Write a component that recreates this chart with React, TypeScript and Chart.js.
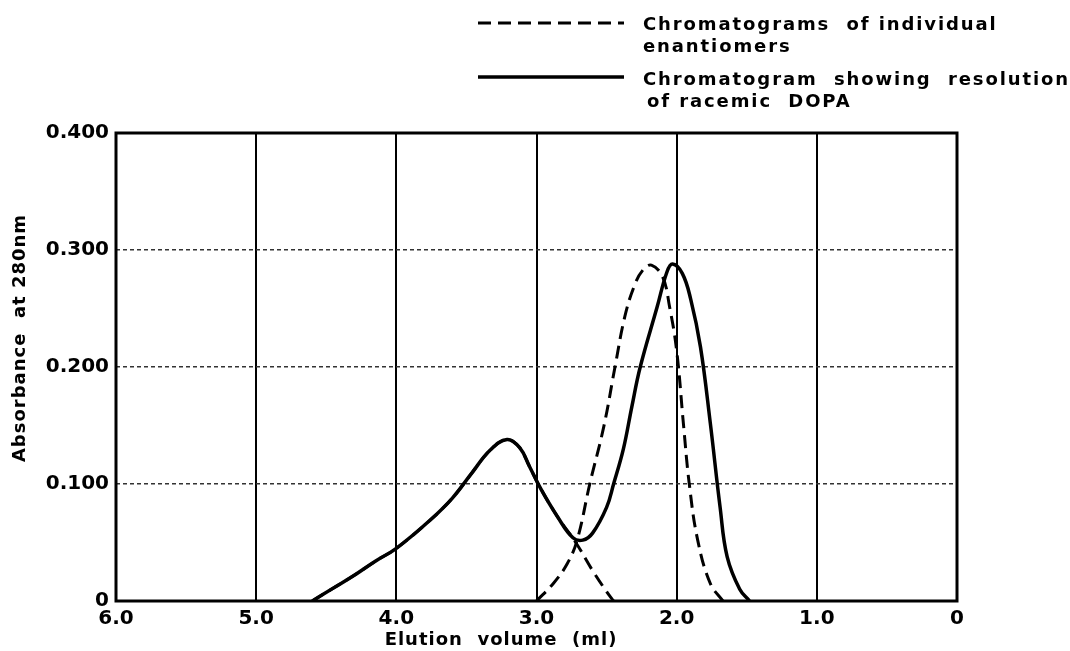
import React, { useEffect, useRef } from "react";
import { Chart, registerables } from "chart.js";

Chart.register(...registerables);

// Racemic DOPA (solid)
const racemicX = [4.6, 4.45, 4.3, 4.15, 4.0, 3.76, 3.6, 3.47, 3.33, 3.21, 3.12, 3.05, 2.97, 2.85, 2.74, 2.67, 2.6, 2.5, 2.45, 2.38, 2.32, 2.26, 2.14, 2.07, 2.03, 1.96, 1.9, 1.83, 1.76, 1.69, 1.64, 1.55, 1.48];
const racemicY = [0, 0.011, 0.022, 0.034, 0.045, 0.069, 0.088, 0.108, 0.129, 0.138, 0.131, 0.115, 0.096, 0.072, 0.054, 0.052, 0.058, 0.08, 0.1, 0.13, 0.166, 0.2, 0.251, 0.281, 0.288, 0.28, 0.258, 0.217, 0.152, 0.08, 0.038, 0.01, 0];

// First enantiomer (dashed)
const enantA_X = [4.6, 4.45, 4.3, 4.15, 4.0, 3.76, 3.6, 3.47, 3.33, 3.21, 3.12, 3.05, 2.97, 2.85, 2.72, 2.6, 2.5, 2.45];
const enantA_Y = [0, 0.011, 0.022, 0.034, 0.045, 0.069, 0.088, 0.108, 0.129, 0.138, 0.131, 0.115, 0.096, 0.072, 0.05, 0.026, 0.008, 0];

// Second enantiomer (dashed)
const enantB_X = [3.0, 2.88, 2.78, 2.71, 2.62, 2.52, 2.44, 2.37, 2.3, 2.24, 2.18, 2.1, 2.05, 2.0, 1.95, 1.91, 1.85, 1.76, 1.67];
const enantB_Y = [0, 0.015, 0.032, 0.052, 0.1, 0.149, 0.2, 0.243, 0.27, 0.283, 0.287, 0.277, 0.251, 0.214, 0.149, 0.1, 0.052, 0.015, 0];

const xTicks = [6, 5, 4, 3, 2, 1, 0];
const yTicks = [0, 0.1, 0.2, 0.3, 0.4];

const legendLabels = [
  ["Chromatograms  of individual", "enantiomers"],
  ["Chromatogram  showing  resolution", "of racemic  DOPA"],
];
const yTitle = "Absorbance  at 280nm";
const xTitle = "Elution  volume  (ml)";

const FONT = "'DejaVu Sans', sans-serif";

const pts = (xs: number[], ys: number[]) => xs.map((x, i) => ({ x, y: ys[i] }));

const decorPlugin = {
  id: "decor",
  beforeDatasetsDraw(chart: any) {
    const { ctx, chartArea: a } = chart;
    ctx.save();
    ctx.strokeStyle = "#000";
    ctx.lineWidth = 3;
    ctx.strokeRect(a.left, a.top, a.right - a.left, a.bottom - a.top);
    ctx.restore();
  },
  afterDraw(chart: any) {
    const { ctx } = chart;
    ctx.save();
    ctx.fillStyle = "#000";
    ctx.strokeStyle = "#000";
    const ds = chart.data.datasets;
    const rows = [
      { y: 23, ty: 30, dash: ds[1].borderDash, w: 3 },
      { y: 77, ty: 85, dash: [], w: 3.5 },
    ];
    (ctx as any).letterSpacing = "1.9px";
    ctx.font = `bold 18px ${FONT}`;
    ctx.textBaseline = "alphabetic";
    ctx.textAlign = "left";
    rows.forEach((r, i) => {
      ctx.beginPath();
      ctx.setLineDash(r.dash);
      ctx.lineWidth = r.w;
      ctx.moveTo(478, r.y);
      ctx.lineTo(624, r.y);
      ctx.stroke();
      ctx.setLineDash([]);
      ctx.fillText(legendLabels[i][0], 643, r.ty);
      ctx.fillText(legendLabels[i][1], i === 0 ? 643 : 647, r.ty + 22);
    });
    (ctx as any).letterSpacing = "1px";
    ctx.font = `bold 18px ${FONT}`;
    ctx.textAlign = "center";
    ctx.textBaseline = "middle";
    ctx.fillText(xTitle, 501, 640);
    ctx.translate(20, 338);
    ctx.rotate(-Math.PI / 2);
    ctx.fillText(yTitle, 0, 0);
    ctx.restore();
  },
};

export default function App() {
  const ref = useRef<HTMLCanvasElement | null>(null);
  useEffect(() => {
    if (!ref.current) return;
    const common = {
      borderColor: "#000",
      pointRadius: 0,
      tension: 0.4,
      fill: false,
    };
    const chart = new Chart(ref.current, {
      type: "line",
      data: {
        datasets: [
          {
            ...common,
            label: "Chromatogram showing resolution of racemic DOPA",
            data: pts(racemicX, racemicY),
            borderWidth: 3.5,
          },
          {
            ...common,
            label: "Chromatograms of individual enantiomers (1)",
            data: pts(enantA_X, enantA_Y),
            borderWidth: 3,
            borderDash: [13, 7],
          },
          {
            ...common,
            label: "Chromatograms of individual enantiomers (2)",
            data: pts(enantB_X, enantB_Y),
            borderWidth: 3,
            borderDash: [13, 7],
          },
        ],
      },
      options: {
        animation: false,
        responsive: false,
        maintainAspectRatio: false,
        layout: { padding: { left: 0, top: 133, right: 113, bottom: 0 } },
        plugins: { legend: { display: false }, tooltip: { enabled: false } },
        scales: {
          x: {
            type: "linear",
            reverse: true,
            min: 0,
            max: 6,
            afterBuildTicks: (s: any) => {
              s.ticks = xTicks.map((v) => ({ value: v }));
            },
            afterFit: (s: any) => {
              s.height = 50;
            },
            ticks: {
              color: "#000",
              font: { family: FONT, size: 20, weight: "bold" },
              padding: 6,
              maxRotation: 0,
              autoSkip: false,
              callback: (v: any) => (Number(v) === 0 ? "0" : Number(v).toFixed(1)),
            },
            grid: { color: "#000", lineWidth: 2, drawTicks: false },
            border: { display: false },
          },
          y: {
            type: "linear",
            min: 0,
            max: 0.4,
            afterBuildTicks: (s: any) => {
              s.ticks = yTicks.map((v) => ({ value: v }));
            },
            afterFit: (s: any) => {
              s.width = 116;
            },
            ticks: {
              color: "#000",
              font: { family: FONT, size: 20, weight: "bold" },
              padding: 7,
              autoSkip: false,
              callback: (v: any) => (Number(v) === 0 ? "0" : Number(v).toFixed(3)),
            },
            grid: {
              color: (c: any) => {
                const v = c.tick ? c.tick.value : 0;
                return v <= 0.001 || v >= 0.399 ? "rgba(0,0,0,0)" : "#333";
              },
              lineWidth: 1.5,
              drawTicks: false,
            },
            border: { display: false, dash: [4, 3] },
          },
        },
      },
      plugins: [decorPlugin],
    });
    return () => chart.destroy();
  }, []);
  return (
    <div style={{ position: "absolute", left: 0, top: 0, width: 1070, height: 651, background: "#fff" }}>
      <canvas ref={ref} width={1070} height={651} style={{ display: "block" }} />
    </div>
  );
}
